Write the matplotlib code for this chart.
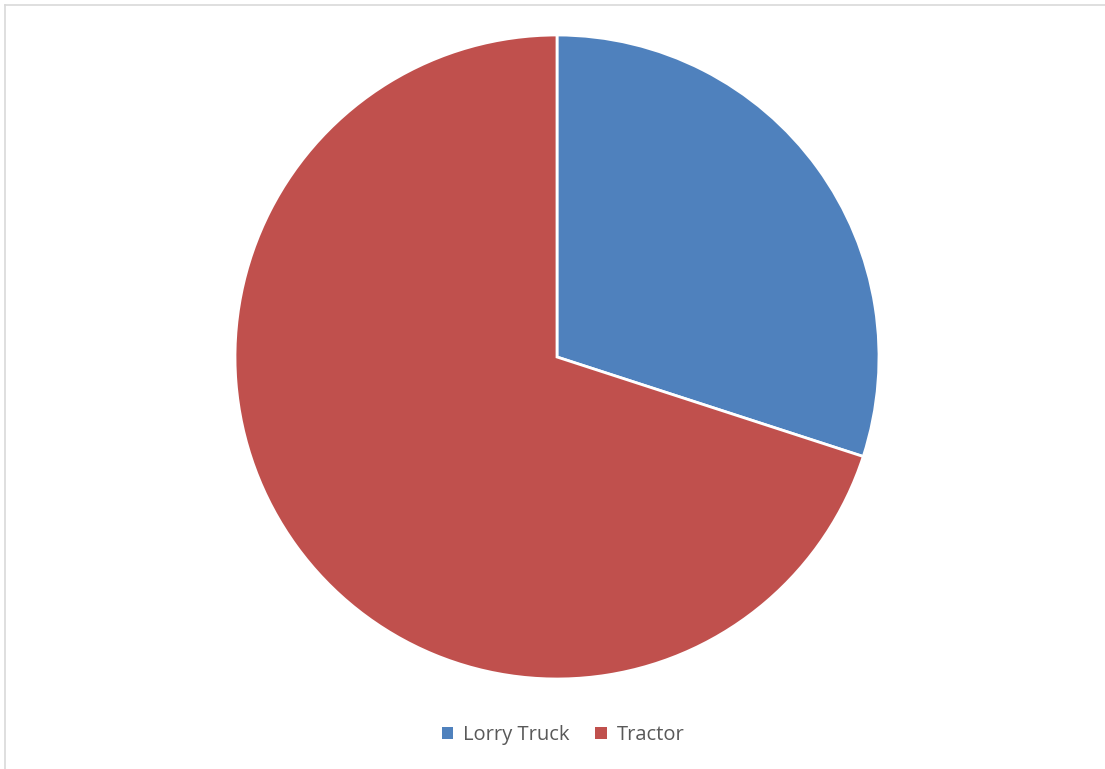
import matplotlib
matplotlib.use('Agg')
import matplotlib.pyplot as plt
from matplotlib.lines import Line2D
from matplotlib.patches import Patch

labels = ['Lorry Truck', 'Tractor']
values = [30, 70]
colors = ['#4F81BD', '#C0504D']

W, H = 1105, 769
fig = plt.figure(figsize=(W / 100, H / 100), dpi=100)
fig.patch.set_facecolor('white')

# chart area border (top and left edges only visible)
fig.add_artist(Line2D([4.5 / W, 4.5 / W], [0, 1 - 4.5 / H], transform=fig.transFigure, color='#D9D9D9', lw=1.2))
fig.add_artist(Line2D([4.5 / W, 1], [1 - 4.5 / H, 1 - 4.5 / H], transform=fig.transFigure, color='#D9D9D9', lw=1.2))

cx, cy, r = 557, 357, 322
ax = fig.add_axes([(cx - r) / W, (H - cy - r) / H, 2 * r / W, 2 * r / H])
wedges, _ = ax.pie(values, colors=colors, startangle=90, counterclock=False, radius=1,
                   wedgeprops=dict(edgecolor='white', linewidth=2))
for w in wedges:
    w.set_clip_on(False)
ax.set_xlim(-1, 1)
ax.set_ylim(-1, 1)
ax.set_aspect('equal')
ax.axis('off')

handles = [Patch(facecolor=c, edgecolor='none') for c in colors]
leg = fig.legend(handles, labels, loc='center', bbox_to_anchor=(563 / W, 1 - 735 / H),
                 ncol=2, frameon=False, handlelength=0.55, handleheight=0.55,
                 handletextpad=0.5, columnspacing=1.3,
                 prop={'family': 'Open Sans', 'size': 14.5})
for t in leg.get_texts():
    t.set_color('#595959')

fig.savefig('out.png', dpi=100)
